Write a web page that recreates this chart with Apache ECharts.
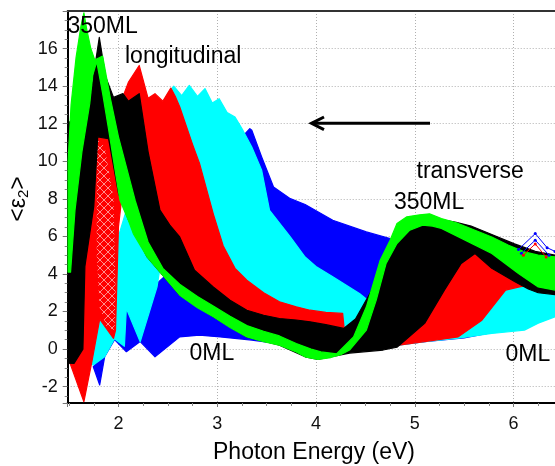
<!DOCTYPE html>
<html><head><meta charset="utf-8">
<script src="https://cdn.jsdelivr.net/npm/echarts@6/dist/echarts.min.js"></script>
<style>html,body{margin:0;padding:0;background:#fff}#c{width:555px;height:466px}</style>
</head><body><div id="c"></div>
<script>
// ---- Data (x = photon energy eV, y = <eps2>) ----
// Each colour family of spectra is drawn as the band it sweeps: upper and lower envelopes.
const greenTop = [[1.49,10.0],[1.52,13.0],[1.57,15.5],[1.62,17.2],[1.65,17.9],[1.68,17.0],[1.72,16.0],[1.76,15.4],[1.80,15.5],[1.84,15.6],[1.92,13.3],[2.00,11.3],[2.10,9.3],[2.17,7.9],[2.30,5.7],[2.45,4.3],[2.62,3.45],[2.80,2.8],[2.96,2.3],[3.13,1.75],[3.30,1.25],[3.47,0.95],[3.63,0.7],[3.80,0.3],[3.95,0.0],[4.05,-0.15],[4.21,-0.25],[4.38,0.65],[4.51,2.25],[4.65,4.73],[4.75,5.8],[4.82,6.69],[4.92,7.04],[5.05,7.15],[5.15,7.2],[5.27,6.95],[5.44,6.69],[5.61,6.33],[5.78,5.97],[5.95,5.53],[6.11,5.18],[6.25,5.0],[6.42,4.91]];
const greenBottom = [[1.49,4.1],[1.515,4.1],[1.56,7.4],[1.63,10.5],[1.71,13.1],[1.74,14.6],[1.78,15.3],[1.84,13.6],[1.90,11.7],[2.00,8.4],[2.015,7.93],[2.10,6.86],[2.15,6.15],[2.29,4.91],[2.42,4.11],[2.62,2.87],[2.80,2.2],[2.96,1.72],[3.13,1.15],[3.30,0.65],[3.47,0.4],[3.63,0.21],[3.80,-0.15],[3.89,-0.41],[4.02,-0.55],[4.15,-0.45],[4.25,-0.3],[4.34,-0.05],[4.51,1.01],[4.61,2.61],[4.71,4.56],[4.82,5.62],[4.95,6.33],[5.08,6.6],[5.18,6.55],[5.27,6.42],[5.51,5.80],[5.78,5.09],[6.05,4.03],[6.25,3.31],[6.42,3.14]];

const blackTop = [[1.49,12.0],[1.60,12.6],[1.71,13.1],[1.76,15.0],[1.806,16.6],[1.87,14.5],[1.95,13.4],[2.045,13.6],[2.10,13.2],[2.21,13.6],[2.30,10.5],[2.42,7.4],[2.52,6.6],[2.62,5.97],[2.77,4.2],[2.96,3.31],[3.13,2.6],[3.30,2.07],[3.47,1.8],[3.63,1.63],[3.80,1.55],[3.94,1.45],[4.10,1.3],[4.28,1.1],[4.40,1.6],[4.55,3.0],[4.70,4.6],[4.85,6.0],[5.00,6.7],[5.15,7.0],[5.27,6.9],[5.42,6.75],[5.57,6.55],[5.78,6.1],[6.01,5.6],[6.22,5.2],[6.42,5.0]];
const blackBottom = [[1.49,-0.75],[1.55,-0.76],[1.64,0.0],[1.66,4.4],[1.75,7.6],[1.79,11.3],[1.90,11.2],[2.00,8.3],[2.10,6.9],[2.29,4.91],[2.42,4.11],[2.62,2.87],[2.96,1.72],[3.30,0.65],[3.63,0.21],[3.89,-0.41],[4.02,-0.55],[4.34,-0.21],[4.68,-0.05],[4.82,0.1],[5.10,1.37],[5.30,3.14],[5.47,4.56],[5.61,5.09],[5.78,4.3],[6.01,3.6],[6.15,3.2],[6.25,3.0],[6.42,2.9]];

const redTop = [[1.51,-0.76],[1.58,3.0],[1.66,7.0],[1.74,10.5],[1.80,12.5],[1.90,12.8],[2.00,13.0],[2.05,13.5],[2.10,14.2],[2.21,15.1],[2.30,13.35],[2.37,13.6],[2.45,13.2],[2.53,13.9],[2.58,13.4],[2.62,12.9],[2.75,10.9],[2.82,9.9],[2.96,7.2],[3.06,5.5],[3.18,4.3],[3.30,3.67],[3.47,3.0],[3.63,2.52],[3.80,2.25],[3.94,2.07],[4.10,1.95],[4.27,1.9],[4.30,0.3],[4.60,0.3],[4.82,1.0],[5.00,3.0],[5.20,4.5],[5.40,5.0],[5.61,5.09],[5.78,4.47],[6.01,3.76],[6.15,3.6],[6.25,3.5]];
const redBottom = [[1.51,-0.76],[1.65,-2.8],[1.73,-0.7],[1.81,1.6],[1.95,0.57],[1.97,1.0],[2.00,6.5],[2.03,7.9],[2.15,6.5],[2.29,5.2],[2.42,4.4],[2.62,3.2],[2.96,2.0],[3.30,1.0],[3.63,0.6],[3.94,0.5],[4.28,0.3],[4.50,0.2],[4.82,0.2],[5.10,0.4],[5.44,0.65],[5.68,1.54],[5.92,3.14],[6.05,3.3],[6.18,3.45],[6.25,3.5]];
// region of the red family where the individual spectra leave white gaps
const redHatch = [[1.78,11.2],[1.86,10.8],[1.95,8.0],[1.97,3.0],[1.96,1.0],[1.88,1.2],[1.81,2.2],[1.78,5.0]];

const cyanTop = [[1.72,-0.8],[1.81,1.63],[1.90,3.5],[2.00,6.0],[2.20,9.5],[2.40,12.5],[2.50,13.6],[2.56,14.0],[2.64,13.5],[2.717,14.04],[2.80,13.45],[2.876,13.87],[2.95,13.1],[3.02,13.33],[3.10,12.6],[3.18,12.36],[3.25,11.74],[3.35,10.76],[3.45,9.52],[3.53,7.39],[3.74,5.97],[3.89,4.9],[4.00,4.4],[4.17,3.85],[4.44,2.96],[4.55,2.5],[4.65,2.0],[5.00,2.0],[5.44,2.0],[5.68,2.8],[5.92,3.2],[6.05,3.35],[6.18,3.5],[6.30,3.2],[6.42,3.0]];
const cyanBottom = [[1.72,-0.8],[1.745,-0.85],[1.86,-0.41],[1.96,0.55],[2.06,0.15],[2.08,2.16],[2.22,0.39],[2.39,3.3],[2.42,4.3],[2.62,3.1],[2.96,2.0],[3.30,1.0],[3.63,0.5],[3.90,0.0],[4.30,-0.2],[4.50,0.1],[4.82,0.2],[5.10,0.39],[5.44,0.58],[5.78,0.83],[6.11,1.01],[6.25,1.38],[6.42,1.72]];

const blueTop = [[1.745,-0.94],[1.86,-0.3],[1.96,0.6],[2.06,1.0],[2.08,2.16],[2.22,2.6],[2.39,3.5],[2.60,4.5],[2.80,6.0],[3.00,8.5],[3.20,11.0],[3.33,11.74],[3.35,11.65],[3.45,10.23],[3.57,8.63],[3.74,8.01],[3.89,7.7],[4.17,6.86],[4.51,6.24],[4.75,5.89],[5.00,5.6],[5.50,5.1],[6.00,4.9],[6.42,4.8]];
const blueBottom = [[1.745,-0.94],[1.81,-1.91],[1.86,-0.41],[1.96,0.5],[2.08,-0.14],[2.22,0.4],[2.37,-0.41],[2.62,0.65],[2.82,0.74],[3.03,0.65],[3.35,0.48],[3.60,0.3],[3.90,-0.2],[4.30,-0.1],[4.80,0.2],[5.10,0.4],[5.50,0.6],[5.80,0.9],[6.10,1.1],[6.42,1.8]];
// thin-film spectra poking above the 350ML band near 6.2 eV
const blueSpikeA = [[6.05,5.3],[6.22,6.15],[6.34,5.4],[6.42,5.2]];
const blueSpikeB = [[6.08,5.1],[6.22,5.8],[6.36,5.0]];
const redSpike = [[6.10,5.0],[6.22,5.6],[6.33,4.9]];

const annotations = [
  {text:'350ML', x:67.5, y:26.5},
  {text:'longitudinal', x:125, y:57},
  {text:'transverse', x:416.5, y:172},
  {text:'350ML', x:394, y:203},
  {text:'0ML', x:189.5, y:354},
  {text:'0ML', x:505.5, y:355}
];

const FONT = '"Liberation Sans", Arial, Helvetica, sans-serif';

function hatchCanvas() {
  const c = document.createElement('canvas'); c.width = 8; c.height = 8;
  const g = c.getContext('2d');
  g.fillStyle = '#ff0000'; g.fillRect(0, 0, 8, 8);
  g.strokeStyle = 'rgba(255,255,255,0.7)'; g.lineWidth = 0.8;
  g.beginPath(); g.moveTo(0, 8); g.lineTo(8, 0); g.stroke();
  g.beginPath(); g.moveTo(0, 0); g.lineTo(8, 8); g.stroke();
  return c;
}

function band(name, top, bottom, fill, stroke) {
  const pts = top.concat((bottom || []).slice().reverse());
  return {
    type: 'custom', name: name, silent: true, clip: true,
    data: [[top[0][0], top[0][1]]],
    renderItem: function (params, api) {
      return {
        type: 'polygon',
        shape: { points: pts.map(function (p) { return api.coord(p); }) },
        style: { fill: fill, stroke: stroke, lineWidth: stroke ? 1.2 : 0, lineJoin: 'round' }
      };
    }
  };
}
function thinLine(data, color) {
  return { type: 'line', data: data, silent: true, clip: true, symbol: 'circle', symbolSize: 3,
    lineStyle: { color: color, width: 1 }, itemStyle: { color: color } };
}

const chart = echarts.init(document.getElementById('c'), null, {renderer: 'canvas'});
const splitStyle = { show: true, lineStyle: { color: '#b0b0b0', width: 1, type: [1, 2] } };
chart.setOption({
  animation: false,
  backgroundColor: '#fff',
  grid: { left: 67.7, right: 0, top: 11, bottom: 63, containLabel: false },
  xAxis: [{
    type: 'value', min: 1.486, max: 6.42, splitNumber: 5, minInterval: 1, maxInterval: 1,
    axisLine: { show: true, onZero: false, lineStyle: { color: '#000', width: 2 } },
    axisTick: { show: true, length: 4, lineStyle: { color: '#777' } },
    minorTick: { show: true, splitNumber: 4, length: 3, lineStyle: { color: '#888' } },
    splitLine: splitStyle,
    axisLabel: { fontSize: 18, color: '#111', margin: 12, fontFamily: FONT, showMinLabel: false, showMaxLabel: false }
  }, {
    type: 'value', position: 'top', min: 1.486, max: 6.42,
    axisLine: { show: true, onZero: false, lineStyle: { color: '#333', width: 2 } },
    axisTick: { show: false }, axisLabel: { show: false }, splitLine: { show: false }
  }],
  yAxis: {
    type: 'value', min: -2.87, max: 18, splitNumber: 10, minInterval: 2, maxInterval: 2,
    axisLine: { show: true, onZero: false, lineStyle: { color: '#000', width: 2 } },
    axisTick: { show: true, length: 5, lineStyle: { color: '#777' } },
    minorTick: { show: true, splitNumber: 4, length: 3, lineStyle: { color: '#888' } },
    splitLine: splitStyle,
    axisLabel: { fontSize: 18, color: '#111', margin: 10, fontFamily: FONT, showMinLabel: false, showMaxLabel: false }
  },
  series: [
    band('blue', blueTop, blueBottom, '#0000ff', '#0000ff'),
    band('cyan', cyanTop, cyanBottom, '#00ffff', '#00ffff'),
    band('red', redTop, redBottom, '#ff0000', '#ff0000'),
    band('redHatch', redHatch, null, { image: hatchCanvas(), repeat: 'repeat' }, null),
    band('black', blackTop, blackBottom, '#000000', '#000000'),
    band('green', greenTop, greenBottom, '#00ff00', '#00ff00'),
    thinLine(blueSpikeA, '#0000ff'),
    thinLine(blueSpikeB, '#0000ff'),
    thinLine(redSpike, '#ff0000')
  ],
  graphic: annotations.map(function (a) {
    return { type: 'text', x: a.x, y: a.y, z: 100,
      style: { text: a.text, font: '23px ' + FONT, fill: '#000', textAlign: 'left', textVerticalAlign: 'middle' } };
  }).concat([
    { type: 'text', x: 314, y: 452.5, z: 100,
      style: { text: 'Photon Energy (eV)', font: '23px ' + FONT, fill: '#000', textAlign: 'center', textVerticalAlign: 'middle' } },
    { type: 'text', x: 19, y: 199, rotation: Math.PI / 2, z: 100,
      style: { text: '<ε{s|2}>', font: '23px ' + FONT, fill: '#000', textAlign: 'center', textVerticalAlign: 'middle',
        rich: { s: { fontSize: 15, fontFamily: FONT, padding: [9, 0, 0, 0] } } } },
    { type: 'polyline', z: 100, shape: { points: [[430, 123.3], [312, 123.3]] }, style: { stroke: '#000', lineWidth: 3 } },
    { type: 'polyline', z: 100, shape: { points: [[324, 117], [311.5, 123.3], [324, 129.6]] }, style: { stroke: '#000', lineWidth: 3, fill: null } }
  ])
});
</script></body></html>
